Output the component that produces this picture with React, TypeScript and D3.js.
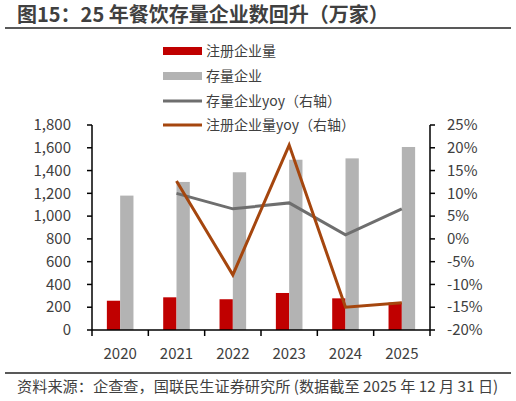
import React from "react";
import * as d3 from "d3";

const years = ["2020", "2021", "2022", "2023", "2024", "2025"];
const registered = [257, 287, 270, 325, 278, 240];
const existing = [1180, 1300, 1385, 1495, 1507, 1607];
const existingYoy = [null, 10.0, 6.6, 7.9, 0.9, 6.6];
const registeredYoy = [null, 12.7, -7.9, 20.6, -15.0, -14.0];
const leftTicks = [0, 200, 400, 600, 800, 1000, 1200, 1400, 1600, 1800];
const rightTicks = [-20, -15, -10, -5, 0, 5, 10, 15, 20, 25];

const W = 516, H = 401;
const FONT = "'Noto Sans CJK SC', 'Noto Sans', sans-serif";
const TXT = "#404040";

export default function App() {
  const left = 92, right = 430, top = 125, bottom = 330;
  const x = d3.scaleBand<string>().domain(years).range([left, right]);
  const yL = d3.scaleLinear().domain([0, 1800]).range([bottom, top]);
  const yR = d3.scaleLinear().domain([-20, 25]).range([bottom, top]);
  const bw = 13.3;
  const fmt = d3.format(",");
  const cx = (d: string) => (x(d) as number) + x.bandwidth() / 2;

  const line = d3
    .line<[string, number | null]>()
    .defined((d) => d[1] !== null)
    .x((d) => cx(d[0]))
    .y((d) => yR(d[1] as number));

  const legend = [
    { label: "注册企业量", type: "rect", color: "#C00000" },
    { label: "存量企业", type: "rect", color: "#B3B3B3" },
    { label: "存量企业yoy（右轴）", type: "line", color: "#6E6E6E" },
    { label: "注册企业量yoy（右轴）", type: "line", color: "#A5460E" },
  ];
  const legendY = [51, 76, 101, 125];

  return (
    <svg width={W} height={H} style={{ position: "absolute", left: 0, top: 0, fontFamily: FONT }}>
      <rect width={W} height={H} fill="#fff" />
      <text x={17} y={22} fontSize={20} fontWeight="bold" fill={TXT}>
        图15：25 年餐饮存量企业数回升（万家）
      </text>
      <line x1={5} x2={511} y1={28} y2={28} stroke="#595959" strokeWidth={2} />

      {legend.map((l, i) =>
        <g key={l.label}>
          {l.type === "rect" ? (
            <rect x={163} y={legendY[i] - 4} width={39} height={8} fill={l.color} />
          ) : (
            <line x1={163} x2={202} y1={legendY[i]} y2={legendY[i]} stroke={l.color} strokeWidth={3} />
          )}
          <text x={206} y={legendY[i]} dy="0.35em" fontSize={14} fill={TXT}>{l.label}</text>
        </g>
      )}

      {years.map((yr, i) => (
        <g key={yr}>
          <rect x={cx(yr) - bw} y={yL(registered[i])} width={bw} height={bottom - yL(registered[i])} fill="#C00000" />
          <rect x={cx(yr)} y={yL(existing[i])} width={bw} height={bottom - yL(existing[i])} fill="#B3B3B3" />
        </g>
      ))}

      <path d={line(years.map((y, i) => [y, existingYoy[i]]) as any) || ""} fill="none" stroke="#6E6E6E" strokeWidth={3} />
      <path d={line(years.map((y, i) => [y, registeredYoy[i]]) as any) || ""} fill="none" stroke="#A5460E" strokeWidth={3} />

      {/* left axis */}
      <line x1={left} x2={left} y1={top} y2={bottom} stroke="#000" strokeWidth={1.5} />
      {leftTicks.map((t) => (
        <g key={t}>
          <line x1={left - 5} x2={left} y1={yL(t)} y2={yL(t)} stroke="#000" strokeWidth={1.5} />
          <text x={71} y={yL(t)} dy="0.35em" textAnchor="end" fontSize={15} fill={TXT}>{fmt(t)}</text>
        </g>
      ))}
      {/* right axis */}
      <line x1={right} x2={right} y1={top} y2={bottom} stroke="#000" strokeWidth={1.5} />
      {rightTicks.map((t) => (
        <g key={t}>
          <line x1={right} x2={right + 5} y1={yR(t)} y2={yR(t)} stroke="#000" strokeWidth={1.5} />
          <text x={447} y={yR(t)} dy="0.35em" textAnchor="start" fontSize={15} fill={TXT}>{t}%</text>
        </g>
      ))}
      {/* x axis */}
      <line x1={left} x2={right} y1={bottom} y2={bottom} stroke="#000" strokeWidth={1.5} />
      {years.map((yr) => (
        <line key={"t" + yr} x1={x(yr) as number} x2={x(yr) as number} y1={bottom} y2={bottom + 6} stroke="#000" strokeWidth={1.5} />
      ))}
      <line x1={right} x2={right} y1={bottom} y2={bottom + 6} stroke="#000" strokeWidth={1.5} />
      {years.map((yr) => (
        <text key={"l" + yr} x={cx(yr)} y={354} dy="0.35em" textAnchor="middle" fontSize={15} fill={TXT}>{yr}</text>
      ))}

      <line x1={5} x2={511} y1={373} y2={373} stroke="#595959" strokeWidth={2} />
      <text x={17} y={387} dy="0.35em" fontSize={15.2} fill={TXT}>
        资料来源：企查查，国联民生证券研究所 (数据截至 2025 年 12 月 31 日)
      </text>
    </svg>
  );
}
